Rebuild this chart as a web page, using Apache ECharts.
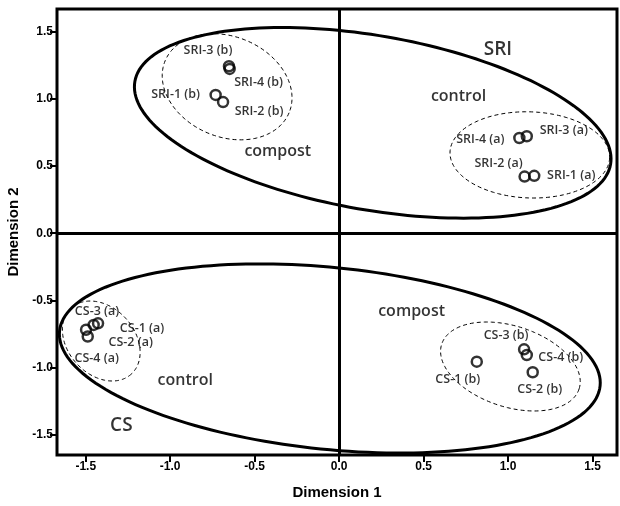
<!DOCTYPE html>
<html><head><meta charset="utf-8">
<script src="https://cdn.jsdelivr.net/npm/echarts@6/dist/echarts.min.js"></script>
<style>html,body{margin:0;padding:0;background:#fff}#c{width:620px;height:506px}</style>
</head><body><div id="c"></div>
<script>
// ---- data ----
const sampleNames = ['SRI-1 (b)','SRI-2 (b)','SRI-3 (b)','SRI-4 (b)',
                     'SRI-1 (a)','SRI-2 (a)','SRI-3 (a)','SRI-4 (a)',
                     'CS-1 (a)','CS-2 (a)','CS-3 (a)','CS-4 (a)',
                     'CS-1 (b)','CS-2 (b)','CS-3 (b)','CS-4 (b)'];
const dim1 = [-0.731,-0.687,-0.652,-0.648,
               1.155, 1.098, 1.111, 1.067,
              -1.427,-1.453,-1.498,-1.488,
               0.815, 1.146, 1.095, 1.111];
const dim2 = [ 1.031, 0.978, 1.245, 1.225,
               0.428, 0.422, 0.723, 0.710,
              -0.672,-0.684,-0.720,-0.770,
              -0.958,-1.037,-0.866,-0.908];
const xTicks = [-1.5,-1.0,-0.5,0.0,0.5,1.0,1.5];
const yTicks = [-1.5,-1.0,-0.5,0.0,0.5,1.0,1.5];

// group labels
const groupNames = ['SRI','control','compost','compost','control','CS'];
const groupX = [0.940, 0.707,-0.363, 0.429,-0.911,-1.289];
const groupY = [1.372, 1.021, 0.610,-0.582,-1.095,-1.431];

// ellipses: centre and two conjugate semi-axis vectors (data units)
const ellipseNames = ['SRI','CS','SRI compost','SRI control','CS control','CS compost'];
const ellCx = [ 0.199,-0.055,-0.663, 1.129,-1.408, 1.014];
const ellCy = [ 0.823,-0.934, 1.092, 0.584,-0.804,-0.994];
const ellUx = [ 1.408, 1.600, 0.3668, 0.4725, 0.178, 0.4067];
const ellUy = [-0.309,-0.2045,-0.1938,-0.0209,-0.2463,-0.1669];
const ellVx = [-0.0879,-0.054,-0.1142,-0.0089,-0.1457,-0.0737];
const ellVy = [-0.640,-0.675,-0.3449,-0.3209,-0.168,-0.2867];
const ellDashed = [0,0,1,1,1,1];

// ---- styling (label offsets in px) ----
const labelOffsets = [[-40,-1],[36,9],[-21,-16],[29,13],
                      [37,0],[-26,-13],[37,-6],[-39,1],
                      [44,5],[37,18],[11,-18],[9,22],
                      [-19,18],[7,17],[-18,-14],[34,2]];
const groupFont = [19,16,16,16,16,19];

const chart = echarts.init(document.getElementById('c'), null, {renderer:'canvas'});
const tickFont = {fontFamily:'Liberation Sans, Arial, sans-serif', fontWeight:'bold', fontSize:12, color:'#000'};
const nameFont = {fontFamily:'Liberation Sans, Arial, sans-serif', fontWeight:'bold', fontSize:15, color:'#000'};

const ellData = ellCx.map((c,i)=>[c, ellCy[i], ellUx[i], ellUy[i], ellVx[i], ellVy[i], ellDashed[i]]);

chart.setOption({
  animation:false,
  backgroundColor:'#fff',
  grid:{left:57, right:3, top:9, bottom:51, containLabel:false, outerBoundsMode:'none',
        show:true, borderColor:'#000', borderWidth:3, backgroundColor:'transparent'},
  xAxis:{type:'value', min:-1.67, max:1.645,
    name:'Dimension 1', nameLocation:'middle', nameGap:30, nameTextStyle:nameFont,
    axisLine:{show:false, onZero:false}, splitLine:{show:false},
    axisTick:{show:true, customValues:xTicks, length:7, lineStyle:{color:'#000', width:2}},
    axisLabel:Object.assign({customValues:xTicks, margin:6, formatter:v=>Number(v).toFixed(1)}, tickFont)},
  yAxis:{type:'value', min:-1.654, max:1.672,
    name:'Dimension 2', nameLocation:'middle', nameGap:34, nameRotate:90, nameTextStyle:nameFont,
    axisLine:{show:false, onZero:false}, splitLine:{show:false},
    axisTick:{show:true, customValues:yTicks, length:7, lineStyle:{color:'#000', width:2}},
    axisLabel:Object.assign({customValues:yTicks, margin:4, formatter:v=>Number(v).toFixed(1)}, tickFont)},
  series:[
    {type:'custom', name:'ellipses', clip:true, silent:true,
     data:ellData, encode:{x:0, y:1},
     renderItem:function(params, api){
       const cx=api.value(0), cy=api.value(1), ux=api.value(2), uy=api.value(3), vx=api.value(4), vy=api.value(5), d=api.value(6);
       const pts=[];
       for(let k=0;k<=180;k++){
         const t=k/180*Math.PI*2;
         pts.push(api.coord([cx+ux*Math.cos(t)+vx*Math.sin(t), cy+uy*Math.cos(t)+vy*Math.sin(t)]));
       }
       return {type:'polygon', shape:{points:pts},
         style:{fill:null, stroke:'#000', lineWidth: d? 1 : 3, lineDash: d? [4,3] : null}};
     }},
    {type:'scatter', name:'samples', symbol:'circle', symbolSize:10,
     itemStyle:{color:'rgba(0,0,0,0)', borderColor:'#000', borderWidth:2.5},
     data:sampleNames.map((n,i)=>({name:n, value:[dim1[i], dim2[i]],
        label:{show:true, formatter:n, position:'inside', offset:labelOffsets[i],
               align:'center', verticalAlign:'middle',
               fontFamily:'Open Sans, Noto Sans, sans-serif', fontWeight:600, fontSize:12.5, color:'#000'}})),
     markLine:{silent:true, symbol:'none', animation:false, label:{show:false},
       lineStyle:{color:'#000', width:3, type:'solid'},
       data:[{xAxis:0},{yAxis:0}]},
     z:3},
    {type:'scatter', name:'groups', symbolSize:0, silent:true,
     data:groupNames.map((n,i)=>({name:n, value:[groupX[i], groupY[i]],
        label:{show:true, formatter:n, position:'inside', align:'center', verticalAlign:'middle',
               fontFamily:'Open Sans, Noto Sans, sans-serif', fontWeight:600, fontSize:groupFont[i], color:'#000'}})),
     z:4}
  ]
});
</script></body></html>
